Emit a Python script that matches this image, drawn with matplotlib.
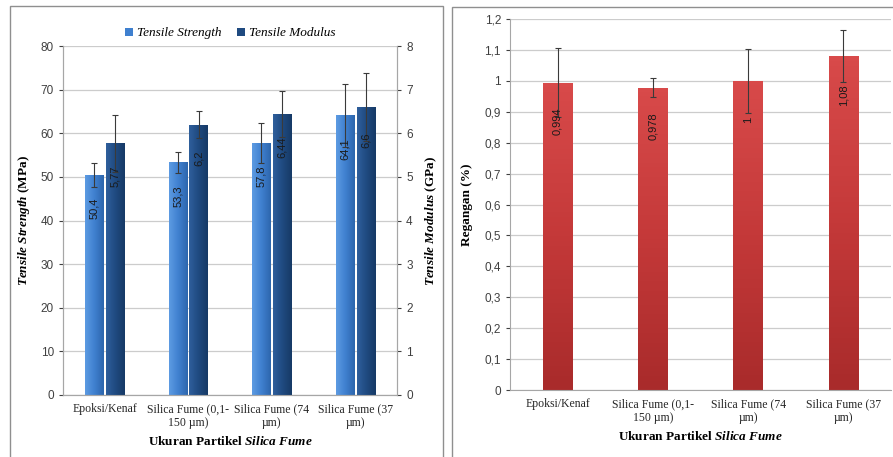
import numpy as np
import matplotlib
matplotlib.use("Agg")
from matplotlib import pyplot as plt
from matplotlib.patches import Rectangle, Patch
from matplotlib.colors import LinearSegmentedColormap
from matplotlib.ticker import MultipleLocator, FuncFormatter

categories = ["Epoksi/Kenaf", "Silica Fume (0,1-\n150 µm)",
              "Silica Fume (74\nµm)", "Silica Fume (37\nµm)"]
tensile_strength = [50.4, 53.3, 57.8, 64.1]
ts_err = [2.8, 2.5, 4.6, 7.3]
tensile_modulus = [5.77, 6.2, 6.44, 6.6]
tm_err = [0.66, 0.32, 0.52, 0.78]
regangan = [0.994, 0.978, 1.0, 1.08]
reg_err = [0.112, 0.03, 0.104, 0.083]

plt.rcParams.update({
    "font.family": ["Liberation Sans", "DejaVu Sans"],
    "mathtext.fontset": "custom",
    "mathtext.rm": "Liberation Serif",
    "mathtext.it": "Liberation Serif:italic",
    "mathtext.bf": "Liberation Serif:bold",
    "mathtext.bfit": "Liberation Serif:bold:italic",
})

SERIF = "Liberation Serif"
TICK_C = "#404040"
GRID_C = "#cccccc"
SPINE_C = "#a6a6a6"

light_cmap = LinearSegmentedColormap.from_list("lb", ["#5d9be2", "#3f80cf", "#2d66ad"])
dark_cmap = LinearSegmentedColormap.from_list("db", ["#2f5f9c", "#1f4a80", "#163a66"])
red_cmap = LinearSegmentedColormap.from_list("rd", ["#a92b2b", "#c43939", "#d84a4a"])


def shade(ax, bars, cmap, vertical=False):
    # gradient fill clipped to each bar
    for b in bars:
        x, y = b.get_x(), b.get_y()
        w, h = b.get_width(), b.get_height()
        if vertical:
            grad = np.linspace(0, 1, 64).reshape(-1, 1)
        else:
            grad = np.linspace(0, 1, 64).reshape(1, -1)
        im = ax.imshow(grad, extent=[x, x + w, y, y + h], origin="lower",
                       aspect="auto", cmap=cmap, zorder=b.get_zorder() + 0.1)
        im.set_clip_path(b)


def fmt(v):
    return f"{v:g}".replace(".", ",")


def style_axis(ax):
    ax.tick_params(axis="both", colors=TICK_C, labelsize=8.5, length=3, width=0.8)
    ax.tick_params(axis="x", length=0, pad=6)
    for lab in ax.get_xticklabels():
        lab.set_fontfamily(SERIF)
        lab.set_fontsize(8.5)
        lab.set_color("#262626")


fig = plt.figure(figsize=(8.93, 4.57), dpi=100)

# chart area frames
fig.patches.append(Rectangle((0.0112, -0.02), 0.4849, 1.0069, transform=fig.transFigure,
                             fill=False, edgecolor="#8f8f8f", lw=1.0))
fig.patches.append(Rectangle((0.506, -0.02), 0.6, 1.0047, transform=fig.transFigure,
                             fill=False, edgecolor="#8f8f8f", lw=1.0))

x = np.arange(len(categories))

# ---------- left: tensile strength / modulus ----------
ax1 = fig.add_axes([0.0705, 0.1357, 0.3741, 0.7636])
ax2 = ax1.twinx()
w = 0.22
off = 0.125

b1 = ax1.bar(x - off, tensile_strength, w, color="#3f80cf", zorder=2,
             label="Tensile Strength")
ax1.errorbar(x - off, tensile_strength, yerr=ts_err, fmt="none", ecolor="#3a3a3a",
             elinewidth=0.8, capsize=2.5, capthick=0.8, zorder=4)
shade(ax1, b1, light_cmap)

b2 = ax2.bar(x + off, tensile_modulus, w, color="#1f4a80", zorder=2,
             label="Tensile Modulus")
ax2.errorbar(x + off, tensile_modulus, yerr=tm_err, fmt="none", ecolor="#3a3a3a",
             elinewidth=0.8, capsize=2.5, capthick=0.8, zorder=4)
shade(ax2, b2, dark_cmap)

for xi, v in zip(x - off, tensile_strength):
    ax1.annotate(fmt(v), (xi, v), xytext=(0, -24), textcoords="offset points",
                 rotation=90, ha="center", va="center", fontsize=8, color="#1a1a1a", zorder=5)
for xi, v in zip(x + off, tensile_modulus):
    ax2.annotate(fmt(v), (xi, v), xytext=(0, -24), textcoords="offset points",
                 rotation=90, ha="center", va="center", fontsize=8, color="#1a1a1a", zorder=5)

ax1.set_xlim(-0.5, len(categories) - 0.5)
ax1.set_ylim(0, 80)
ax2.set_ylim(0, 8)
ax1.yaxis.set_major_locator(MultipleLocator(10))
ax2.yaxis.set_major_locator(MultipleLocator(1))
ax1.set_xticks(x)
ax1.set_xticklabels(categories)
ax1.grid(axis="y", color=GRID_C, lw=0.9, zorder=0)
ax1.set_axisbelow(True)
for ax in (ax1, ax2):
    ax.spines["top"].set_visible(False)
    for s in ("left", "right", "bottom"):
        ax.spines[s].set_color(SPINE_C)
style_axis(ax1)
ax2.tick_params(axis="y", colors=TICK_C, labelsize=8.5, length=3, width=0.8)

ax1.set_ylabel(r"$\mathbfit{Tensile\ Strength}$ (MPa)", fontfamily=SERIF,
               fontweight="bold", fontsize=9.5, labelpad=6)
ax2.set_ylabel(r"$\mathbfit{Tensile\ Modulus}$ (GPa)", fontfamily=SERIF,
               fontweight="bold", fontsize=9.5, labelpad=8)
ax1.set_xlabel(r"Ukuran Partikel $\mathbfit{Silica\ Fume}$", fontfamily=SERIF,
               fontweight="bold", fontsize=9.5, labelpad=4)

handles = [Patch(facecolor="#3f80cf"), Patch(facecolor="#1f4a80")]
leg = ax1.legend(handles, ["Tensile Strength", "Tensile Modulus"], ncol=2,
                 loc="lower center", bbox_to_anchor=(0.5, 0.985), frameon=False,
                 handlelength=0.6, handleheight=0.6, handletextpad=0.3, columnspacing=1.2,
                 prop={"family": SERIF, "style": "italic", "size": 9.5})

# ---------- right: regangan ----------
ax3 = fig.add_axes([0.5711, 0.1466, 0.4267, 0.8118])
b3 = ax3.bar(x, regangan, 0.31, color="#c43939", zorder=2)
ax3.errorbar(x, regangan, yerr=reg_err, fmt="none", ecolor="#3a3a3a",
             elinewidth=0.8, capsize=2.5, capthick=0.8, zorder=4)
shade(ax3, b3, red_cmap, vertical=True)
for xi, v in zip(x, regangan):
    ax3.annotate(fmt(v), (xi, v), xytext=(0, -28), textcoords="offset points",
                 rotation=90, ha="center", va="center", fontsize=8, color="#1a1a1a", zorder=5)

ax3.set_xlim(-0.5, len(categories) - 0.5)
ax3.set_ylim(0, 1.2)
ax3.yaxis.set_major_locator(MultipleLocator(0.1))
ax3.yaxis.set_major_formatter(FuncFormatter(lambda v, p: fmt(round(v, 1))))
ax3.set_xticks(x)
ax3.set_xticklabels(categories)
ax3.grid(axis="y", color=GRID_C, lw=0.9, zorder=0)
ax3.set_axisbelow(True)
ax3.spines["top"].set_visible(False)
ax3.spines["right"].set_visible(False)
for s in ("left", "bottom"):
    ax3.spines[s].set_color(SPINE_C)
style_axis(ax3)
ax3.set_ylabel("Regangan (%)", fontfamily=SERIF, fontweight="bold", fontsize=9.5, labelpad=8)
ax3.set_xlabel(r"Ukuran Partikel $\mathbfit{Silica\ Fume}$", fontfamily=SERIF,
               fontweight="bold", fontsize=9.5, labelpad=4)

fig.savefig("out.png", dpi=100)
